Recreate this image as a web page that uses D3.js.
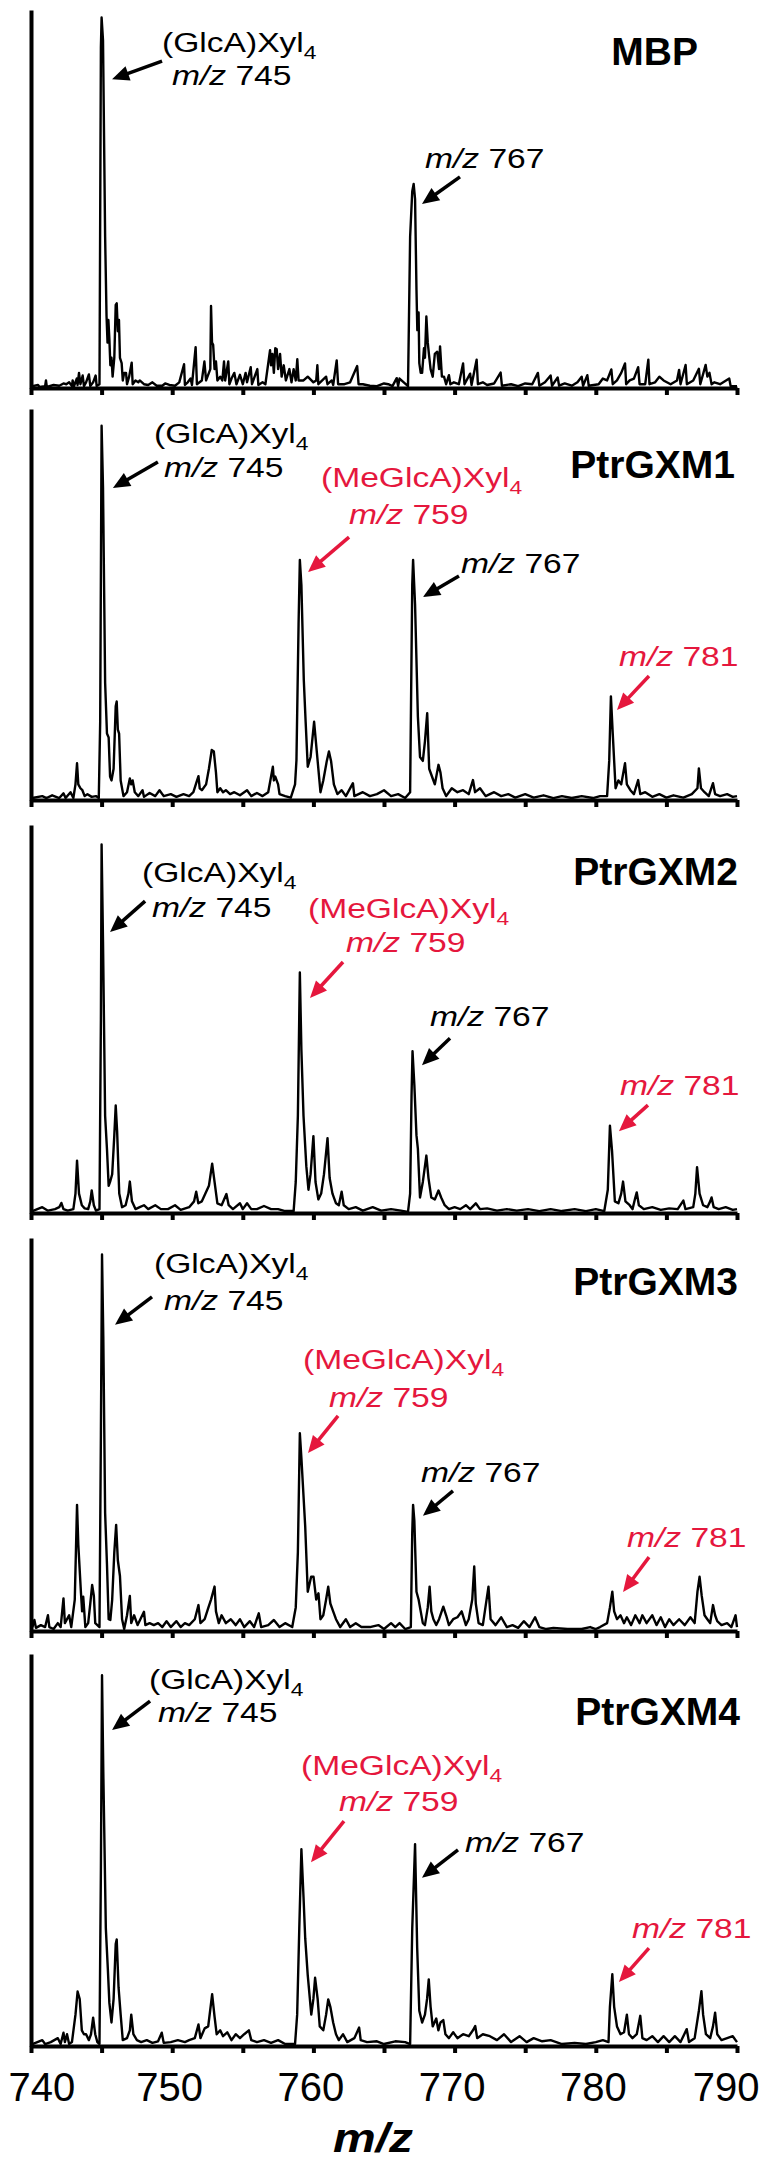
<!DOCTYPE html>
<html>
<head>
<meta charset="utf-8">
<style>
body { margin: 0; background: #fff; }
text { font-family: Arial, "Liberation Sans", Helvetica, sans-serif; }
</style>
</head>
<body>
<svg width="764" height="2163"></svg>
<script src="https://d3js.org/d3.v7.min.js"></script>
<script>
// tick values on the m/z axis
var xTicks = [740, 745, 750, 755, 760, 765, 770, 775, 780, 785, 790];
var xLabels = [740, 750, 760, 770, 780, 790];
var sampleNames = ["MBP", "PtrGXM1", "PtrGXM2", "PtrGXM3", "PtrGXM4"];

// spectra: [m/z, relative intensity %]
var mbp = [[740.1,0.5],[740.5,0.8],[740.6,0.3],[741.0,0.5],[741.06,2],[741.12,0.3],[741.6,0.8],[742.0,0.6],[742.3,1.2],[742.5,1],[742.7,1.5],[742.9,0.5],[742.95,2],[743.05,0.5],[743.24,2.5],[743.3,0.8],[743.4,4],[743.5,1],[743.66,3.3],[743.75,0.5],[743.9,1.5],[744.1,3.6],[744.2,0.5],[744.4,1.5],[744.58,3.3],[744.65,0.5],[744.85,1],[744.95,90],[745.0,98],[745.1,92],[745.25,40],[745.35,19],[745.42,12],[745.48,18],[745.55,13],[745.62,6],[745.7,8],[745.78,3],[745.9,8],[746.0,22],[746.07,22.4],[746.15,15],[746.23,18],[746.3,8],[746.42,6.6],[746.5,2],[746.6,4],[746.73,4],[746.8,1],[746.95,3],[747.13,6.7],[747.2,1],[747.4,2],[747.6,1.5],[747.7,2],[748.0,1],[748.3,0.8],[748.6,1.5],[748.9,0.6],[749.3,0.6],[749.5,1.2],[749.8,0.8],[750.2,0.6],[750.5,1.5],[750.84,6.3],[750.9,0.8],[751.1,1.5],[751.3,2.5],[751.4,0.8],[751.66,10.8],[751.75,1],[752.1,2],[752.28,7],[752.4,2],[752.7,5],[752.75,21.7],[752.82,12],[752.9,11.4],[753.0,5],[753.1,7],[753.2,2],[753.4,3],[753.55,2],[753.67,7],[753.75,2],[753.97,7],[754.05,1],[754.2,2.5],[754.4,4],[754.55,1],[754.8,3.5],[755.0,1],[755.2,4],[755.3,1.5],[755.56,5.5],[755.65,1],[756.03,5],[756.1,0.8],[756.4,1.5],[756.6,1],[756.93,10],[757.0,6],[757.1,9],[757.2,4],[757.3,10.5],[757.4,10.3],[757.5,5],[757.64,9],[757.75,3],[757.9,6],[758.05,2],[758.3,5],[758.45,1.5],[758.6,5],[758.75,2],[758.86,7.6],[758.95,2],[759.3,2],[759.6,3],[760.0,1.5],[760.2,2],[760.28,6],[760.35,1],[760.9,3],[761.0,1],[761.3,2],[761.4,0.8],[761.65,7.3],[761.75,1],[762.2,1],[762.6,1.5],[763.1,5.8],[763.2,1],[763.5,1],[764.0,0.6],[764.5,0.5],[765.0,1.2],[765.3,1],[765.6,0.5],[765.9,2.6],[766.0,0.5],[766.1,2.5],[766.7,0.5],[766.85,40],[767.0,52],[767.1,54],[767.2,50],[767.3,26],[767.36,15.3],[767.45,20],[767.5,6.6],[767.6,4],[767.7,4],[767.83,10.5],[767.9,8],[768.0,18.9],[768.1,12],[768.18,9],[768.3,5],[768.45,3],[768.6,9],[768.77,9.6],[768.9,5],[768.97,11],[769.1,3],[769.25,3],[769.4,1],[769.6,3.4],[769.7,1],[769.95,1.5],[770.3,1],[770.6,6.5],[770.7,1],[771.1,3.8],[771.2,0.8],[771.56,7.5],[771.65,1],[772.0,1.5],[772.3,0.8],[772.8,1.2],[773.26,4.1],[773.35,0.6],[774.0,1],[774.5,0.5],[775.0,1.2],[775.5,1],[775.9,4],[776.0,0.6],[776.4,1.5],[776.8,3.3],[776.9,0.6],[777.3,2.8],[777.4,0.6],[777.8,1.2],[778.3,0.6],[778.7,1.5],[779.0,3],[779.1,0.6],[779.4,3.4],[779.5,0.6],[780.2,1],[780.5,2.5],[780.8,2],[781.1,4.9],[781.2,1],[781.5,2],[781.8,4],[782.07,6.5],[782.15,1],[782.4,2],[782.7,2.5],[783.0,5.5],[783.1,1],[783.5,1],[783.72,7.5],[783.8,1],[784.2,1.5],[784.5,3],[784.8,2],[785.3,1],[785.75,2],[785.9,4.8],[786.0,1],[786.36,6.1],[786.45,1],[786.9,2],[787.3,5.1],[787.4,1],[787.78,6.1],[787.9,3],[788.05,4],[788.2,1],[788.4,1.5],[788.8,1],[789.45,2.5],[789.55,0.5],[790,0.5]];

var gxm1 = [[740.1,0.5],[740.8,1],[741.1,0.5],[741.5,1.2],[742.0,0.5],[742.3,1.7],[742.45,0.5],[742.8,2],[743.0,0.5],[743.15,4],[743.26,9.4],[743.35,4],[743.5,3],[743.64,2.5],[743.8,1],[744.0,1.5],[744.3,0.8],[744.6,1],[744.8,0.5],[744.9,20],[745.0,95.7],[745.1,80],[745.25,30],[745.38,17],[745.5,16],[745.6,6],[745.7,5],[745.85,8],[746.0,24],[746.07,25.2],[746.15,18],[746.24,17],[746.35,5],[746.55,1],[746.8,2],[747.0,5.5],[747.1,4],[747.2,5],[747.35,2],[747.6,1],[747.9,2.5],[748.0,0.8],[748.4,1.8],[748.8,1],[749.1,2.5],[749.4,1],[749.9,1.5],[750.3,0.8],[750.8,1.5],[751.2,1],[751.5,2],[751.7,4.3],[751.86,6.1],[751.95,3],[752.1,2.5],[752.4,4],[752.6,8],[752.8,12.8],[752.95,12.4],[753.1,7],[753.2,2],[753.4,3],[753.6,2],[753.8,2.5],[754.1,1.5],[754.4,2],[754.8,1.2],[755.3,2.5],[755.6,1],[756.0,1.8],[756.4,1],[756.8,2],[757.13,8.5],[757.2,5],[757.3,6],[757.5,4],[757.6,1.5],[758.0,1],[758.4,0.6],[758.7,4],[758.8,10.2],[758.95,45],[759.04,61.4],[759.15,55],[759.32,30.7],[759.45,20],[759.6,8.5],[759.8,11],[760.05,20],[760.25,12],[760.5,2],[760.7,5],[760.95,10],[761.1,12.4],[761.25,10],[761.45,4],[761.7,1.5],[762.0,2.5],[762.3,1],[762.8,4.3],[762.9,1],[763.5,2],[764.0,1],[764.5,1.5],[765.0,2.5],[765.5,1],[766.0,1.5],[766.5,0.5],[766.85,2],[767.0,55],[767.06,61.4],[767.2,50],[767.4,21.3],[767.55,11],[767.75,10],[767.9,15],[768.06,22.2],[768.2,8],[768.45,5.5],[768.6,4],[768.86,9],[769.0,7],[769.15,3],[769.4,1],[769.8,3],[770.2,2],[770.6,2.5],[771.0,1.5],[771.3,5.1],[771.45,2],[771.8,3],[772.2,1],[772.8,2],[773.3,1],[773.8,1.5],[774.3,0.6],[775.0,1.5],[775.6,0.6],[776.3,1.2],[777.0,0.5],[777.6,1],[778.3,0.5],[779.0,1],[779.8,0.5],[780.3,1],[780.8,1],[780.95,10],[781.07,26.5],[781.2,17],[781.4,3],[781.6,5],[781.8,4],[782.07,9.4],[782.2,4],[782.45,2.5],[782.7,1.5],[783.0,5.1],[783.15,1.5],[783.5,2],[784.0,0.8],[784.5,1.5],[785.0,0.6],[785.5,1.2],[786.2,0.6],[786.8,1.5],[787.2,3],[787.3,8.1],[787.45,3],[787.7,2],[788.0,1],[788.3,4.3],[788.45,1.5],[788.8,1],[789.3,1.5],[789.7,0.8],[790,1]];

var gxm2 = [[740.1,0.5],[740.8,1.5],[741.2,0.6],[741.7,1],[742.0,1.5],[742.15,2.6],[742.3,1],[742.6,0.6],[743.0,1],[743.15,5],[743.26,13.5],[743.4,5],[743.6,2],[743.8,1.2],[744.05,1],[744.2,3],[744.3,5.8],[744.45,2],[744.6,0.6],[744.85,1],[744.95,50],[745.0,95],[745.1,70],[745.25,25],[745.38,16.5],[745.5,7],[745.6,8],[745.75,10],[745.9,20],[746.0,27.7],[746.1,21],[746.25,5],[746.45,1.5],[746.7,2],[746.9,5],[747.0,8.1],[747.15,3],[747.4,1],[747.7,1.5],[748.0,2],[748.3,1],[748.8,2],[749.2,1],[749.7,1],[750.2,2],[750.6,0.8],[751.2,1.5],[751.55,3],[751.7,5.5],[751.85,2.5],[752.1,3],[752.35,5],[752.6,7],[752.83,12.7],[753.0,8],[753.2,2.5],[753.5,2],[753.84,4.9],[754.0,2],[754.3,1],[754.8,2.5],[755.0,1],[755.3,2.5],[755.6,1],[756.0,1],[756.5,1.8],[757.0,1],[757.5,1],[758.0,0.5],[758.6,0.5],[758.75,8],[758.9,25],[759.04,62],[759.15,42],[759.3,25],[759.5,12],[759.65,6],[759.8,10],[760.0,19.8],[760.15,8],[760.35,3.5],[760.55,5],[760.75,10],[761.0,19.3],[761.15,9],[761.35,5],[761.6,2.5],[761.8,2],[762.0,5.5],[762.15,2],[762.5,1],[763.0,1.5],[763.5,0.6],[764.2,1.5],[764.8,0.6],[765.5,1],[766.2,0.6],[766.7,0.3],[766.85,5],[766.95,30],[767.02,41.7],[767.15,33],[767.3,20],[767.4,16.5],[767.55,4],[767.75,8],[768.0,14.8],[768.15,9],[768.35,4],[768.6,3.5],[768.86,5.8],[769.05,4],[769.3,2],[769.6,1],[770.0,1.5],[770.4,1],[770.8,2],[771.1,1],[771.5,2.5],[771.8,1],[772.3,1.2],[773.0,0.6],[773.7,1],[774.4,0.6],[775.2,1],[776.0,0.5],[776.8,1],[777.6,0.5],[778.5,1],[779.3,0.5],[780.0,1],[780.6,0.5],[780.85,6],[781.0,22.5],[781.15,16],[781.35,3],[781.6,2.5],[781.8,5],[781.93,8.1],[782.1,3],[782.4,2],[782.6,1],[782.8,4],[782.9,5.3],[783.05,2],[783.4,1],[784.0,1.5],[784.6,0.8],[785.2,1.2],[785.8,1],[786.2,3.2],[786.35,1],[786.9,1.5],[787.05,5],[787.17,11.8],[787.35,5],[787.6,2],[787.9,1.5],[788.1,3],[788.2,4],[788.35,1.5],[788.7,1],[789.2,1.5],[789.7,0.8],[790,1]];

var gxm3 = [[740.1,1],[740.24,2.8],[740.35,0.8],[740.7,1.5],[741.0,1],[741.2,4],[741.3,1],[741.6,0.5],[741.9,2],[742.1,1],[742.3,8.3],[742.4,2],[742.7,4],[742.85,1],[743.1,8],[743.26,32.1],[743.35,22],[743.54,9.6],[743.62,5],[743.7,8.7],[743.85,1],[744.05,2],[744.2,7],[744.33,11.7],[744.45,9],[744.55,2],[744.85,1],[744.95,50],[745.03,95.8],[745.12,75],[745.25,30],[745.38,17],[745.5,3],[745.62,2.8],[745.75,8],[745.9,20],[746.03,27],[746.15,18],[746.3,14],[746.45,3],[746.6,0.5],[746.8,4],[747.0,8.9],[747.1,2],[747.3,4],[747.55,1.5],[748.0,4.9],[748.1,1.5],[748.4,2],[748.7,1.5],[749.0,2],[749.3,1],[749.6,2.5],[749.9,1],[750.3,2.5],[750.6,1],[750.9,2],[751.2,1.5],[751.6,3],[751.86,6.6],[752.0,2],[752.3,3],[752.55,5.8],[752.75,8],[753.0,11.3],[753.1,5],[753.3,2],[753.5,4],[753.8,2],[754.15,3],[754.5,1.5],[754.8,3],[755.1,1],[755.5,2.5],[755.8,1],[756.13,4.5],[756.3,1],[756.8,1.5],[757.2,2.8],[757.6,1],[758.0,2],[758.5,1],[758.75,6],[758.9,20],[759.04,50.3],[759.15,44],[759.42,26.6],[759.6,10],[759.84,13.8],[760.01,13.8],[760.2,8],[760.36,9.6],[760.5,3],[760.7,4],[760.9,8],[761.05,11.3],[761.2,7],[761.4,5],[761.6,3],[761.9,1],[762.3,3],[762.6,1],[763.0,2],[763.4,1],[764.0,1],[764.6,1.5],[765.0,0.5],[765.5,2],[765.8,1],[766.1,2],[766.5,0.5],[766.9,1],[767.0,25],[767.06,32.1],[767.15,28],[767.3,10],[767.45,8],[767.6,5],[767.75,2],[767.9,1.5],[768.1,6],[768.23,11.3],[768.35,5],[768.5,3],[768.7,1.5],[768.9,3],[769.2,6.2],[769.4,4],[769.6,1.5],[769.9,3],[770.2,3.5],[770.5,5],[770.8,1.5],[771.0,3],[771.25,8],[771.39,16.4],[771.5,7],[771.7,2],[772.0,1.5],[772.4,11.3],[772.55,3],[772.9,1.5],[773.3,3.5],[773.7,1],[774.1,1.5],[774.5,0.8],[774.9,2.5],[775.3,1],[775.7,3.5],[776.0,1],[776.5,0.5],[777.0,0.8],[778.0,0.5],[779.0,0.5],[779.6,1],[780.0,0.5],[780.3,1],[780.8,2],[781.0,6],[781.17,10],[781.3,5],[781.5,3],[781.75,4],[782.0,2],[782.2,3.5],[782.5,1.5],[782.8,4],[783.1,2],[783.3,4],[783.6,2],[784.0,4],[784.3,1.5],[784.6,3.5],[784.9,1],[785.2,3],[785.5,1.5],[785.9,3],[786.3,1.5],[786.7,3.5],[787.0,2],[787.2,10],[787.35,13.8],[787.5,9],[787.7,4],[787.9,3],[788.1,2],[788.3,6.6],[788.45,4],[788.6,2.5],[788.9,1.5],[789.3,2],[789.6,1],[789.9,4],[790,1]];

var gxm4 = [[740.1,0.5],[740.8,1.5],[741.0,0.5],[741.4,1],[741.9,2],[742.1,0.5],[742.3,3.4],[742.4,1],[742.55,3],[742.7,0.5],[742.9,1],[743.15,8],[743.3,13.9],[743.45,12],[743.6,4],[743.75,3],[743.9,3],[744.1,1.5],[744.25,3],[744.4,7.2],[744.55,3],[744.7,1],[744.85,0.5],[744.95,45],[745.03,94.6],[745.12,70],[745.3,30],[745.44,19.8],[745.55,11],[745.7,6],[745.85,12],[746.0,26],[746.07,27.2],[746.2,15],[746.35,8],[746.5,1.5],[746.8,2],[747.0,4],[747.1,8],[747.25,3],[747.5,1.5],[747.8,1],[748.2,1.5],[748.6,0.8],[749.0,1.2],[749.26,3.4],[749.4,0.8],[749.9,1],[750.4,1.5],[750.9,1],[751.2,1.5],[751.6,2],[751.86,5.5],[752.0,2],[752.3,4.5],[752.55,5],[752.83,13.2],[753.0,7.5],[753.15,3],[753.4,4],[753.6,2.5],[753.9,3.5],[754.2,1.5],[754.5,3],[754.8,2],[755.1,3],[755.43,4],[755.6,1.5],[756.0,1],[756.5,1.5],[757.0,0.8],[757.5,1.5],[758.0,0.5],[758.7,0.5],[758.85,8],[759.0,30],[759.15,50.2],[759.3,38],[759.42,27.5],[759.6,18],[759.85,8],[760.0,12],[760.12,17.4],[760.3,12],[760.45,5],[760.7,4],[760.9,8],[761.05,11.9],[761.2,10],[761.4,6],[761.6,3],[761.8,1.5],[762.1,3],[762.4,1],[762.9,2],[763.24,4.7],[763.35,1.5],[763.8,1],[764.5,1.2],[765.0,0.5],[765.8,1.2],[766.5,1],[766.85,0.5],[767.0,30],[767.2,51.5],[767.35,25],[767.5,9],[767.7,6],[767.9,8],[768.05,12],[768.17,17],[768.3,10],[768.45,5],[768.7,7],[768.85,4],[769.0,6],[769.2,6.6],[769.35,3],[769.6,2],[769.9,3.5],[770.2,2],[770.6,3],[771.0,2.5],[771.3,4],[771.46,5.1],[771.6,2],[772.0,3],[772.5,2.5],[773.0,1.5],[773.5,3],[774.0,1],[774.6,2.5],[775.1,1],[775.6,2],[776.2,1.2],[776.8,1.5],[777.6,0.5],[778.5,0.8],[779.3,0.5],[780.0,1],[780.5,1.5],[780.9,1],[781.0,10],[781.17,18.3],[781.3,10],[781.5,5],[781.75,3],[782.0,3.5],[782.2,8],[782.35,3],[782.6,2],[782.9,3],[783.15,7.7],[783.3,2],[783.6,1.5],[784.0,2.5],[784.4,1],[784.8,2.5],[785.2,1],[785.6,2.5],[786.0,1],[786.44,4.3],[786.6,1],[787.0,2],[787.3,9],[787.48,14],[787.6,8],[787.8,3],[788.1,2],[788.3,5],[788.45,8.5],[788.6,3],[788.9,1.5],[789.3,2],[789.7,2.5],[790,1]];

var spectra = [mbp, gxm1, gxm2, gxm3, gxm4];

// arrow tips in data units (m/z, % height) and label text per panel
var annotations = [
  {p: 0, mz: 745.74, h: 81.7, red: false, top: "(GlcA)Xyl", sub: "4", ion: "745"},
  {p: 0, mz: 767.69, h: 48.7, red: false, ion: "767"},
  {p: 1, mz: 745.8,  h: 79.8, red: false, top: "(GlcA)Xyl", sub: "4", ion: "745"},
  {p: 1, mz: 759.62, h: 58.3, red: true,  top: "(MeGlcA)Xyl", sub: "4", ion: "759"},
  {p: 1, mz: 767.76, h: 51.9, red: false, ion: "767"},
  {p: 1, mz: 781.5,  h: 23,   red: true,  ion: "781"},
  {p: 2, mz: 745.6,  h: 72.4, red: false, top: "(GlcA)Xyl", sub: "4", ion: "745"},
  {p: 2, mz: 759.76, h: 55.4, red: true,  top: "(MeGlcA)Xyl", sub: "4", ion: "759"},
  {p: 2, mz: 767.69, h: 38.1, red: false, ion: "767"},
  {p: 2, mz: 781.64, h: 21.1, red: true,  ion: "781"},
  {p: 3, mz: 745.95, h: 77.9, red: false, top: "(GlcA)Xyl", sub: "4", ion: "745"},
  {p: 3, mz: 759.62, h: 45.3, red: true,  top: "(MeGlcA)Xyl", sub: "4", ion: "759"},
  {p: 3, mz: 767.76, h: 29.3, red: false, ion: "767"},
  {p: 3, mz: 781.93, h: 9.9,  red: true,  ion: "781"},
  {p: 4, mz: 745.74, h: 80.6, red: false, top: "(GlcA)Xyl", sub: "4", ion: "745"},
  {p: 4, mz: 759.83, h: 46.9, red: true,  top: "(MeGlcA)Xyl", sub: "4", ion: "759"},
  {p: 4, mz: 767.69, h: 42.9, red: false, ion: "767"},
  {p: 4, mz: 781.64, h: 16.3, red: true,  ion: "781"}
];

// layout: arrow vector, label positions (px) -- same order as annotations
var annoLayout = [
  {ax: 50, ay: -18, tx: 162, ty: 42, ix: 172, iy: 75},
  {ax: 38, ay: -27, ix: 425, iy: 158},
  {ax: 45, ay: -26, tx: 154, ty: 34, ix: 164, iy: 68},
  {ax: 41, ay: -35, tx: 321, ty: 78, ix: 349, iy: 115},
  {ax: 36, ay: -21, ix: 461, iy: 164},
  {ax: 32, ay: -34, ix: 619, iy: 257},
  {ax: 35, ay: -31, tx: 142, ty: 57, ix: 152, iy: 92},
  {ax: 33, ay: -36, tx: 308, ty: 93, ix: 346, iy: 127},
  {ax: 28, ay: -27, ix: 430, iy: 201},
  {ax: 29, ay: -26, ix: 620, iy: 270},
  {ax: 37, ay: -28, tx: 154, ty: 35, ix: 164, iy: 72},
  {ax: 30, ay: -37, tx: 303, ty: 131, ix: 329, iy: 169},
  {ax: 30, ay: -25, ix: 421, iy: 244},
  {ax: 26, ay: -35, ix: 627, iy: 309},
  {ax: 38, ay: -29, tx: 149, ty: 35, ix: 158, iy: 68},
  {ax: 33, ay: -41, tx: 301, ty: 121, ix: 339, iy: 157},
  {ax: 36, ay: -28, ix: 465, iy: 198},
  {ax: 30, ay: -34, ix: 632, iy: 284}
];

var panelTop = [10, 409, 825, 1238, 1654];
var panelBase = [388, 800, 1213, 1631, 2046];
var nameX = [698, 735, 738, 738, 740];
var nameY = [55, 69, 60, 57, 71];

var red = "#e5173d";
var labelStretch = 1.2;   // annotation lettering is wider than plain Arial

var svg = d3.select("svg");
svg.append("rect").attr("width", 764).attr("height", 2163).attr("fill", "#fff");

var x = d3.scaleLinear().domain([740, 790]).range([31, 737]);

sampleNames.forEach(function(name, i) {
  var y = d3.scaleLinear().domain([0, 100]).range([panelBase[i], panelTop[i]]);
  var g = svg.append("g");

  // spectrum trace
  var line = d3.line()
      .x(function(d) { return x(d[0]); })
      .y(function(d) { return y(d[1]); });
  g.append("path")
      .datum(spectra[i])
      .attr("d", line)
      .attr("fill", "none")
      .attr("stroke", "#000")
      .attr("stroke-width", 2.4)
      .attr("stroke-linejoin", "round");

  // bottom axis
  var xAxis = g.append("g")
      .attr("transform", "translate(0," + panelBase[i] + ")")
      .call(d3.axisBottom(x).tickValues(xTicks).tickSize(7).tickSizeOuter(0)
        .tickFormat(function(d) { return (i == 4 && xLabels.indexOf(d) >= 0) ? d : ""; }));
  xAxis.select(".domain").attr("stroke-width", 4).attr("stroke", "#000");
  xAxis.selectAll(".tick line").attr("stroke-width", 4).attr("stroke", "#000");
  xAxis.selectAll(".tick text")
      .attr("font-size", 40)
      .attr("font-family", "Arial, 'Liberation Sans', sans-serif")
      .attr("fill", "#000")
      .attr("y", 27)
      .attr("dy", "0.71em")
      .attr("x", function(d) { return d == 740 ? -23 : (d == 790 ? 22 : -3); })
      .attr("text-anchor", function(d) { return d == 740 ? "start" : (d == 790 ? "end" : "middle"); });

  // left axis line only
  var yAxis = g.append("g")
      .attr("transform", "translate(" + x(740) + ",0)")
      .call(d3.axisLeft(y).tickValues([]).tickSizeOuter(0));
  yAxis.select(".domain").attr("stroke-width", 4).attr("stroke", "#000");

  // sample name
  g.append("text")
      .attr("x", nameX[i])
      .attr("y", panelTop[i] + nameY[i])
      .attr("text-anchor", "end")
      .attr("font-size", 39)
      .attr("font-weight", "bold")
      .text(name);

  // annotations
  annotations.forEach(function(a, k) {
    if (a.p != i) return;
    var L = annoLayout[k];
    var col = a.red ? red : "#000";
    var tipX = x(a.mz), tipY = y(a.h);
    var tailX = tipX + L.ax, tailY = tipY + L.ay;
    var len = Math.sqrt(L.ax * L.ax + L.ay * L.ay);
    var ux = -L.ax / len, uy = -L.ay / len;   // direction tail -> tip
    var headLen = 17, headW = 7.5;
    var bx = tipX - ux * headLen, by = tipY - uy * headLen;
    g.append("line")
        .attr("x1", tailX).attr("y1", tailY)
        .attr("x2", bx + ux * 2).attr("y2", by + uy * 2)
        .attr("stroke", col).attr("stroke-width", 3.5);
    g.append("path")
        .attr("d", "M" + tipX + "," + tipY +
          "L" + (bx - uy * headW) + "," + (by + ux * headW) +
          "L" + (bx + uy * headW) + "," + (by - ux * headW) + "Z")
        .attr("fill", col);

    if (a.top) {
      var t = g.append("text")
          .attr("transform", "translate(" + L.tx + "," + (panelTop[i] + L.ty) + ") scale(" + labelStretch + ",1)")
          .attr("font-size", 28)
          .attr("fill", col);
      t.append("tspan").text(a.top);
      t.append("tspan").attr("font-size", 19).attr("dy", 7).text(a.sub);
    }
    var t2 = g.append("text")
        .attr("transform", "translate(" + L.ix + "," + (panelTop[i] + L.iy) + ") scale(" + labelStretch + ",1)")
        .attr("font-size", 28)
        .attr("fill", col);
    t2.append("tspan").attr("font-style", "italic").text("m/z");
    t2.append("tspan").text(" " + a.ion);
  });
});

// axis title
svg.append("text")
    .attr("transform", "translate(373,2152) scale(1.2,1)")
    .attr("text-anchor", "middle")
    .attr("font-size", 40)
    .attr("font-weight", "bold")
    .attr("font-style", "italic")
    .text("m/z");
</script>
</body>
</html>
